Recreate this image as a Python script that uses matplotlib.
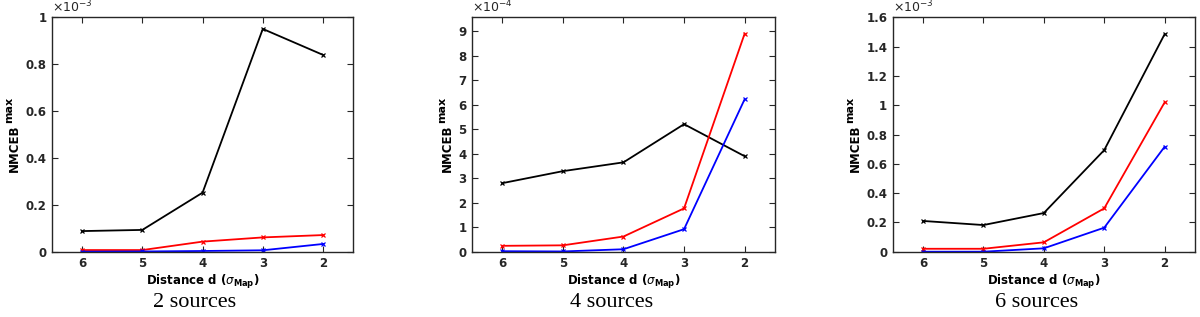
import numpy as np
import matplotlib
matplotlib.use('Agg')
import matplotlib.pyplot as plt
from matplotlib.ticker import FormatStrFormatter, MultipleLocator

plt.rcParams['font.family'] = ['DejaVu Sans']
plt.rcParams['mathtext.fontset'] = 'dejavusans'

# distance between sources, in units of sigma_Map
distance = [6, 5, 4, 3, 2]

# NMCEB^max, in the units shown on each y axis (x 10^exp)
black_2src = [0.088, 0.093, 0.252, 0.951, 0.840]
red_2src = [0.007, 0.007, 0.043, 0.061, 0.071]
blue_2src = [0.000, 0.001, 0.003, 0.006, 0.033]

black_4src = [2.80, 3.29, 3.65, 5.21, 3.90]
red_4src = [0.24, 0.26, 0.62, 1.77, 8.91]
blue_4src = [0.02, 0.01, 0.10, 0.92, 6.23]

black_6src = [0.210, 0.182, 0.264, 0.694, 1.486]
red_6src = [0.020, 0.020, 0.064, 0.296, 1.020]
blue_6src = [0.000, 0.000, 0.023, 0.164, 0.717]

captions = ['2 sources', '4 sources', '6 sources']
exponents = [-3, -4, -3]
y_tops = [1.0, 9.57, 1.6]
y_steps = [0.2, 1, 0.2]

panels = [
    (black_2src, red_2src, blue_2src),
    (black_4src, red_4src, blue_4src),
    (black_6src, red_6src, blue_6src),
]

# axes rectangles in figure fractions (left, bottom, width, height)
rects = [
    (0.0433, 0.206, 0.251, 0.739),
    (0.3933, 0.206, 0.2525, 0.739),
    (0.744, 0.206, 0.2517, 0.739),
]
caption_x = [0.1625, 0.51, 0.864]

AX_COLOR = '#262626'
FS = 8.5

fig = plt.figure(figsize=(12, 3.17), dpi=100)
axes = []

for i, (black, red, blue) in enumerate(panels):
    ax = fig.add_axes(rects[i])
    axes.append(ax)
    ax.plot(distance, black, color='black', lw=1.3, marker='x', ms=3.5, mew=0.9)
    ax.plot(distance, red, color='red', lw=1.3, marker='x', ms=3.5, mew=0.9)
    ax.plot(distance, blue, color='blue', lw=1.3, marker='x', ms=3.5, mew=0.9)

    ax.set_xlim(6.5, 1.5)
    ax.set_ylim(0, y_tops[i])
    ax.set_xticks(distance)
    ax.yaxis.set_major_locator(MultipleLocator(y_steps[i]))
    ax.yaxis.set_major_formatter(FormatStrFormatter('%g'))

    ax.tick_params(direction='in', top=True, right=True, length=4, width=0.8,
                   colors=AX_COLOR, labelsize=FS, pad=4)
    for lab in ax.get_xticklabels() + ax.get_yticklabels():
        lab.set_fontweight('bold')
    for sp in ax.spines.values():
        sp.set_color(AX_COLOR)
        sp.set_linewidth(1.0)

    ax.set_xlabel(r'Distance d ($\sigma_{\mathbf{Map}}$)', fontsize=FS,
                  fontweight='bold', color='black', labelpad=2)
    ax.set_ylabel('NMCEB', fontsize=FS, fontweight='bold', color='black',
                  labelpad=3)
    ax.yaxis.label.set_y(0.44)
    ax.text(0.0, 1.01, r'$\times10^{%d}$' % exponents[i], transform=ax.transAxes,
            ha='left', va='bottom', fontsize=FS + 0.5, color=AX_COLOR)

    fig.text(caption_x[i], 0.047, captions[i], ha='center', va='center',
             fontsize=16, family='Liberation Serif')

# superscript "max" at near full size, as in the original, placed after layout
fig.canvas.draw()
for ax in axes:
    bb = ax.yaxis.label.get_window_extent()
    fig.text(bb.x0 + 6, bb.y1 + 2, 'max', rotation=90, ha='right', va='bottom',
             fontsize=FS - 0.5, fontweight='bold', color='black',
             transform=None)

fig.savefig('out.png', dpi=100)
